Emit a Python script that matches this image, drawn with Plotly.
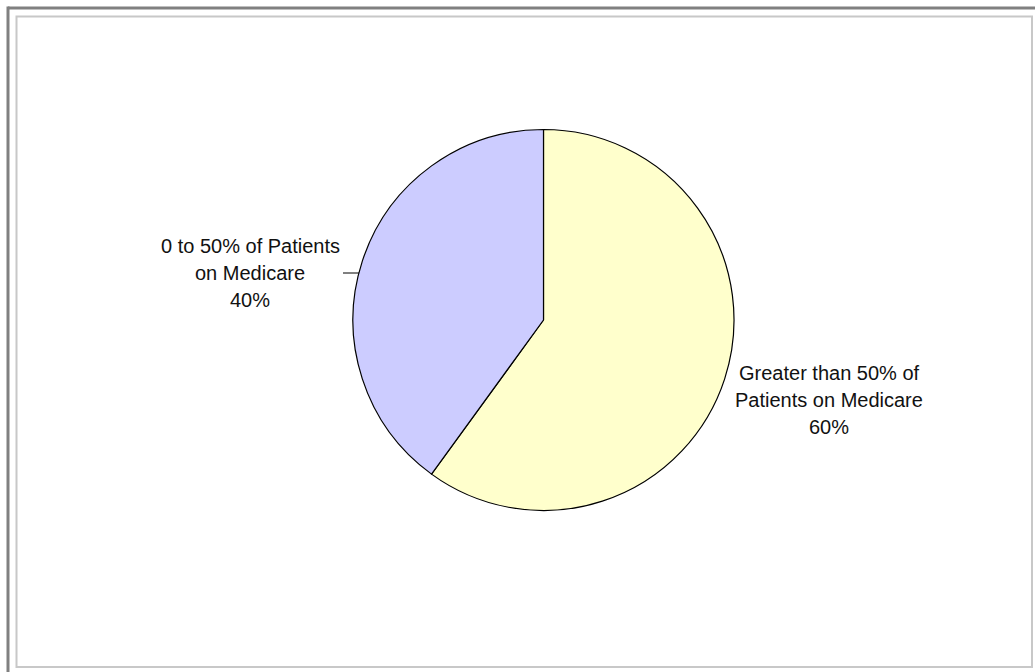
import plotly.graph_objects as go

# Share of patients on Medicare
labels = ["Greater than 50% of Patients on Medicare", "0 to 50% of Patients on Medicare"]
label_lines = [["Greater than 50% of", "Patients on Medicare"], ["0 to 50% of Patients", "on Medicare"]]
values = [60, 40]
colors = ["#FFFFCC", "#CCCCFF"]

W, H = 1035, 672

# pie geometry in pixels
cx, cy, r = 543.5, 320.0, 190.5


def px(x):
    return x / W


def py(y):
    return 1 - y / H


fig = go.Figure(
    go.Pie(
        labels=labels,
        values=values,
        sort=False,
        direction="clockwise",
        rotation=0,
        marker=dict(colors=colors, line=dict(color="#000000", width=1.2)),
        textinfo="none",
        hoverinfo="label+percent",
        showlegend=False,
        domain=dict(x=[px(cx - r - 40), px(cx + r + 40)], y=[py(cy + r), py(cy - r)]),
    )
)

total = sum(values)
# label block centres (x, y of middle line) and line spacing
label_pos = [(829, 400), (250, 273)]
spacing = 27
font = dict(family="Liberation Sans, Arial, sans-serif", size=20, color="#111111")

annotations = []
for lines, v, (lx, ly) in zip(label_lines, values, label_pos):
    rows = lines + [f"{round(100 * v / total)}%"]
    for i, t in enumerate(rows):
        y = ly + (i - 1) * spacing
        annotations.append(
            dict(
                x=px(lx), y=py(y), xref="paper", yref="paper",
                text=t, showarrow=False, font=font,
                xanchor="center", yanchor="middle",
            )
        )

shapes = [
    # outer frame (top and left edges)
    dict(type="line", xref="paper", yref="paper", x0=px(8), x1=1, y0=py(8), y1=py(8),
         line=dict(color="#808080", width=3)),
    dict(type="line", xref="paper", yref="paper", x0=px(8), x1=px(8), y0=py(6.5), y1=0,
         line=dict(color="#808080", width=3)),
    # inner chart area border
    dict(type="rect", xref="paper", yref="paper", x0=px(16.5), x1=px(1032), y0=py(667), y1=py(16.5),
         line=dict(color="#C8C8C8", width=2)),
    # leader line for the smaller slice label
    dict(type="line", xref="paper", yref="paper", x0=px(343), x1=px(359), y0=py(273), y1=py(273),
         line=dict(color="#000000", width=1)),
]

fig.update_layout(
    width=W,
    height=H,
    margin=dict(l=0, r=0, t=0, b=0),
    paper_bgcolor="#FFFFFF",
    plot_bgcolor="#FFFFFF",
    annotations=annotations,
    shapes=shapes,
)

fig.write_html("out.html")
